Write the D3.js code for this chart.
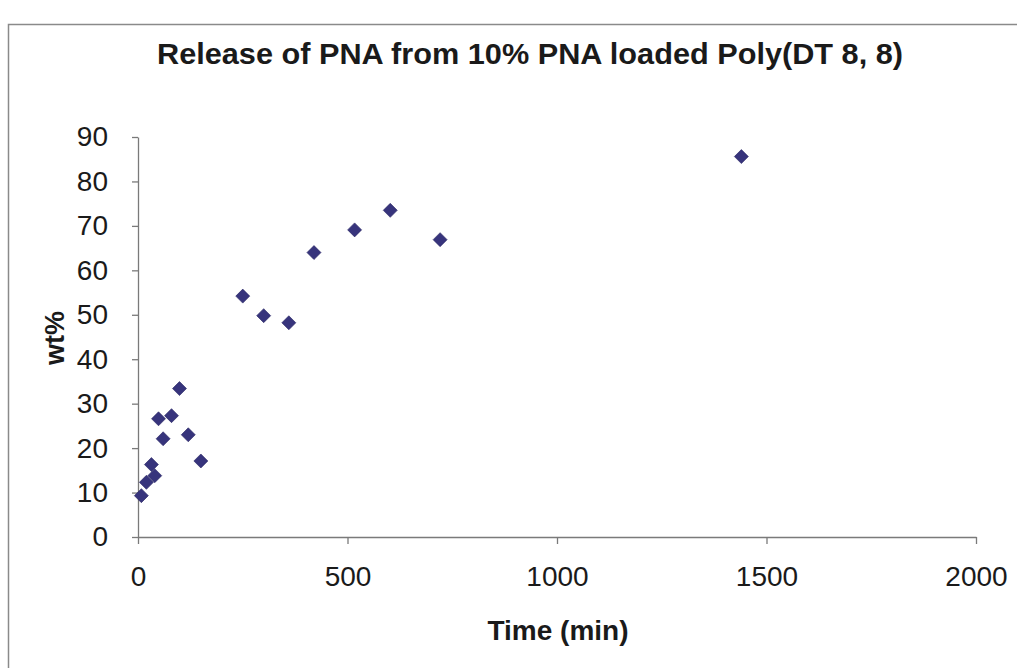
<!DOCTYPE html>
<html>
<head>
<meta charset="utf-8">
<script src="https://cdn.jsdelivr.net/npm/d3@7"></script>
<style>
  html, body { margin: 0; padding: 0; background: #fff; }
  svg { display: block; }
  text { font-family: "Liberation Sans", Arial, sans-serif; fill: #1a1a1a; }
</style>
</head>
<body>
<svg id="chart" width="1017" height="668"></svg>
<script>
// ---- data ----
const timeMin = [8, 20, 32, 40, 49, 60, 80, 99, 120, 150, 250, 300, 360, 420, 517, 602, 721, 1440];
const wtPercent = [9.3, 12.3, 16.3, 13.8, 26.6, 22.1, 27.3, 33.4, 23.0, 17.1, 54.2, 49.8, 48.2, 64.0, 69.1, 73.5, 66.9, 85.6];
const xTicks = [0, 500, 1000, 1500, 2000];
const yTicks = [0, 10, 20, 30, 40, 50, 60, 70, 80, 90];
const titleText = "Release of PNA from 10% PNA loaded Poly(DT 8, 8)";
const xLabel = "Time (min)";
const yLabel = "wt%";

const points = timeMin.map((t, i) => ({ t, v: wtPercent[i] }));

const svg = d3.select("#chart");
const W = 1017, H = 668;
const plot = { left: 138, right: 976, top: 137, bottom: 537 };

// outer frame (chart area border)
svg.append("rect")
  .attr("x", 8.5).attr("y", 24.5)
  .attr("width", W + 20).attr("height", H + 20)
  .attr("fill", "none").attr("stroke", "#8a8a8a").attr("stroke-width", 1.5);

const x = d3.scaleLinear().domain([0, 2000]).range([plot.left, plot.right]);
const y = d3.scaleLinear().domain([0, 90]).range([plot.bottom, plot.top]);

const axisColor = "#7a7a7a";

// x axis
const gx = svg.append("g")
  .attr("transform", `translate(0,${plot.bottom})`)
  .call(d3.axisBottom(x).tickValues(xTicks).tickSize(7).tickSizeOuter(0).tickPadding(22).tickFormat(d3.format("d")));
gx.select(".domain").attr("stroke", axisColor).attr("stroke-width", 1.3);
gx.selectAll(".tick line").attr("stroke", axisColor).attr("stroke-width", 1.3);
gx.selectAll(".tick text")
  .attr("font-size", 28)
  .attr("font-family", "'Liberation Sans', Arial, sans-serif")
  .attr("fill", "#1a1a1a");

// y axis
const gy = svg.append("g")
  .attr("transform", `translate(${plot.left},0)`)
  .call(d3.axisLeft(y).tickValues(yTicks).tickSize(6).tickSizeOuter(0).tickPadding(24).tickFormat(d3.format("d")));
gy.select(".domain").attr("stroke", axisColor).attr("stroke-width", 1.3);
gy.selectAll(".tick line").attr("stroke", axisColor).attr("stroke-width", 1.3);
gy.selectAll(".tick text")
  .attr("font-size", 28)
  .attr("font-family", "'Liberation Sans', Arial, sans-serif")
  .attr("fill", "#1a1a1a");

// markers (diamonds)
svg.append("g").selectAll("path")
  .data(points)
  .join("path")
  .attr("d", d3.symbol().type(d3.symbolSquare).size(98))
  .attr("transform", d => `translate(${x(d.t)},${y(d.v)}) rotate(45)`)
  .attr("fill", "#37347c")
  .attr("stroke", "#2a2866")
  .attr("stroke-width", 0.6);

// title
svg.append("text")
  .attr("x", 530).attr("y", 64)
  .attr("text-anchor", "middle")
  .attr("font-size", 29).attr("font-weight", "bold")
  .attr("textLength", 746).attr("lengthAdjust", "spacingAndGlyphs")
  .text(titleText);

// x label
svg.append("text")
  .attr("x", 558).attr("y", 640)
  .attr("text-anchor", "middle")
  .attr("font-size", 28).attr("font-weight", "bold")
  .text(xLabel);

// y label
svg.append("text")
  .attr("transform", `translate(64,338) rotate(-90)`)
  .attr("text-anchor", "middle")
  .attr("font-size", 27).attr("font-weight", "bold")
  .text(yLabel);
</script>
</body>
</html>
